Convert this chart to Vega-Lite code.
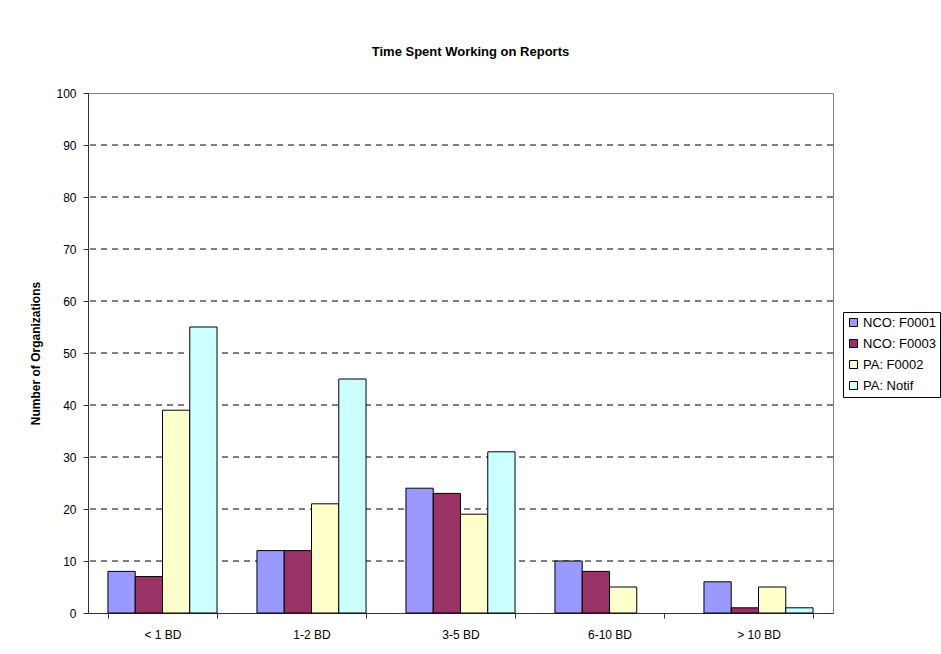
{
  "$schema": "https://vega.github.io/schema/vega-lite/v6.json",
  "width": 745,
  "height": 520,
  "autosize": {"type": "none"},
  "padding": {"left": 88, "top": 93, "right": 108, "bottom": 41},
  "background": "white",
  "title": {"text": "Time Spent Working on Reports", "font": "Liberation Sans", "fontSize": 13, "fontWeight": "bold", "color": "black", "offset": 28, "anchor": "middle", "dx": 10},
  "config": {
    "view": {"stroke": "#808080", "strokeWidth": 1},
    "axis": {"labelFont": "Liberation Sans", "titleFont": "Liberation Sans", "labelColor": "black", "titleColor": "black"}
  },
  "data": {"values": [
    {"period": "< 1 BD", "series": "NCO: F0001", "count": 8},
    {"period": "< 1 BD", "series": "NCO: F0003", "count": 7},
    {"period": "< 1 BD", "series": "PA: F0002", "count": 39},
    {"period": "< 1 BD", "series": "PA: Notif", "count": 55},
    {"period": "1-2 BD", "series": "NCO: F0001", "count": 12},
    {"period": "1-2 BD", "series": "NCO: F0003", "count": 12},
    {"period": "1-2 BD", "series": "PA: F0002", "count": 21},
    {"period": "1-2 BD", "series": "PA: Notif", "count": 45},
    {"period": "3-5 BD", "series": "NCO: F0001", "count": 24},
    {"period": "3-5 BD", "series": "NCO: F0003", "count": 23},
    {"period": "3-5 BD", "series": "PA: F0002", "count": 19},
    {"period": "3-5 BD", "series": "PA: Notif", "count": 31},
    {"period": "6-10 BD", "series": "NCO: F0001", "count": 10},
    {"period": "6-10 BD", "series": "NCO: F0003", "count": 8},
    {"period": "6-10 BD", "series": "PA: F0002", "count": 5},
    {"period": "> 10 BD", "series": "NCO: F0001", "count": 6},
    {"period": "> 10 BD", "series": "NCO: F0003", "count": 1},
    {"period": "> 10 BD", "series": "PA: F0002", "count": 5},
    {"period": "> 10 BD", "series": "PA: Notif", "count": 1}
  ]},
  "layer": [
    {
      "mark": {"type": "rule", "color": "black", "strokeDash": [6, 5], "strokeWidth": 1},
      "data": {"values": [{"g": 10}, {"g": 20}, {"g": 30}, {"g": 40}, {"g": 50}, {"g": 60}, {"g": 70}, {"g": 80}, {"g": 90}]},
      "encoding": {"y": {"field": "g", "type": "quantitative"}}
    },
    {
      "mark": {"type": "bar", "stroke": "black", "strokeWidth": 1},
      "encoding": {
        "x": {
          "field": "period", "type": "nominal",
          "sort": ["< 1 BD", "1-2 BD", "3-5 BD", "6-10 BD", "> 10 BD"],
          "scale": {"paddingInner": 0.268, "paddingOuter": 0.134},
          "axis": {"title": null, "labelAngle": 0, "labelFontSize": 12, "labelPadding": 11, "tickBand": "extent", "tickSize": 5, "tickColor": "#333", "domainColor": "#333", "grid": false}
        },
        "xOffset": {"field": "series", "type": "nominal", "sort": ["NCO: F0001", "NCO: F0003", "PA: F0002", "PA: Notif"], "scale": {"domain": ["NCO: F0001", "NCO: F0003", "PA: F0002", "PA: Notif"], "paddingInner": 0, "paddingOuter": 0}},
        "y": {
          "field": "count", "type": "quantitative",
          "scale": {"domain": [0, 100], "nice": false},
          "axis": {"values": [0, 10, 20, 30, 40, 50, 60, 70, 80, 90, 100], "grid": false, "title": "Number of Organizations", "titleFontSize": 12, "titleFontWeight": "bold", "titlePadding": 13, "labelFontSize": 12, "labelPadding": 7, "tickSize": 5, "tickColor": "#333", "domainColor": "#333"}
        },
        "color": {
          "field": "series", "type": "nominal",
          "sort": ["NCO: F0001", "NCO: F0003", "PA: F0002", "PA: Notif"],
          "scale": {"domain": ["NCO: F0001", "NCO: F0003", "PA: F0002", "PA: Notif"], "range": ["#9999FF", "#993366", "#FFFFCC", "#CCFFFF"]},
          "legend": {"title": null, "orient": "none", "legendX": 755, "legendY": 219, "symbolType": "square", "symbolSize": 64, "symbolStrokeColor": "black", "symbolStrokeWidth": 1, "labelFont": "Liberation Sans", "labelFontSize": 13, "labelColor": "black", "labelOffset": 3, "rowPadding": 7, "strokeColor": "black", "padding": 4, "fillColor": "white"}
        }
      }
    }
  ]
}
